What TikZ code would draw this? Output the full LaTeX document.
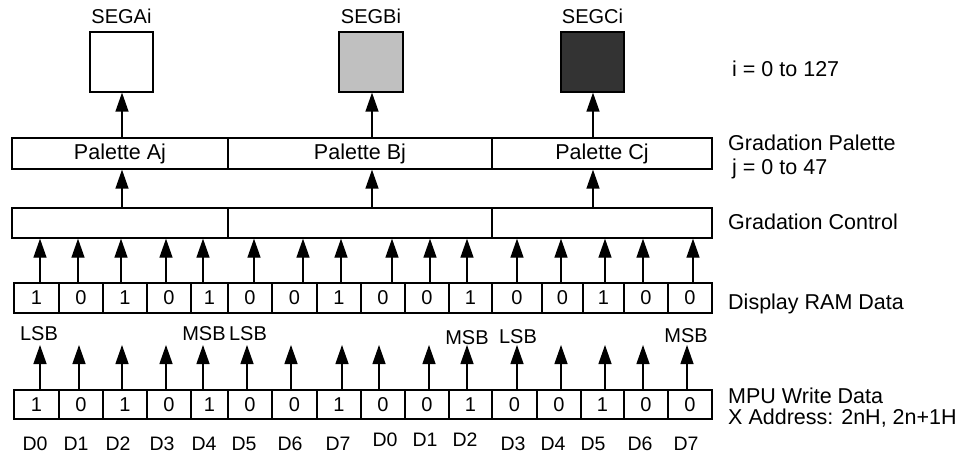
\documentclass[tikz,border=0pt]{standalone}
\usepackage{fontspec}
\setmainfont{Liberation Sans}
\usetikzlibrary{arrows.meta}
\definecolor{segmid}{RGB}{192,192,192}
\definecolor{segdark}{RGB}{51,51,51}
\begin{document}
\begin{tikzpicture}[x=1pt,y=-1pt,
  every node/.style={font=\fontsize{20}{24}\selectfont},
  bigfont/.style={font=\fontsize{21.5}{25}\selectfont},
  cellbox/.style={draw, line width=1.3pt, inner sep=0pt},
  arr/.style={-{Triangle[length=19pt,width=13pt]}, line width=1.3pt},
  lbl/.style={inner sep=0pt, anchor=base west, bigfont},
  clbl/.style={inner sep=0pt, anchor=base}
]
\path[use as bounding box] (0,0) rectangle (963,457);

% segment boxes
\node[cellbox, minimum width=63pt, minimum height=60pt, fill=white] (segA) at (121.5,62) {};
\node[cellbox, minimum width=64pt, minimum height=60pt, fill=segmid] (segB) at (371,62) {};
\node[cellbox, minimum width=63pt, minimum height=60pt, fill=segdark] (segC) at (592.5,62) {};
\node[clbl] (tA) at (121.5,24) {SEGAi};
\node[clbl] (tB) at (371,24) {SEGBi};
\node[clbl] (tC) at (592.5,24) {SEGCi};

% palette row
\node[cellbox, bigfont, minimum width=216pt, minimum height=31pt] (palA) at (120,153.5) {Palette Aj};
\node[cellbox, bigfont, minimum width=264pt, minimum height=31pt] (palB) at (360,153.5) {Palette Bj};
\node[cellbox, bigfont, minimum width=220pt, minimum height=31pt] (palC) at (602,153.5) {Palette Cj};

% gradation control row
\node[cellbox, minimum width=216pt, minimum height=30pt] (gcA) at (120,223) {};
\node[cellbox, minimum width=264pt, minimum height=30pt] (gcB) at (360,223) {};
\node[cellbox, minimum width=220pt, minimum height=30pt] (gcC) at (602,223) {};

% display RAM cells
\foreach \l/\r/\v [count=\i] in {14/59/1,59/103/0,103/147/1,147/191/0,191/228/1,228/272/0,272/317/0,317/361/1,361/405/0,405/449/0,449/492/1,492/542/0,542/583/0,583/624/1,624/668/0,668/712/0}
  \node[cellbox, minimum width={(\r-\l)*1pt}, minimum height=30pt] (r\i) at ({(\l+\r)/2},298) {\v};

% MPU cells
\foreach \l/\r/\v [count=\i] in {14/59/1,59/103/0,103/147/1,147/191/0,191/228/1,228/272/0,272/317/0,317/361/1,361/405/0,405/449/0,449/492/1,492/537/0,537/581/0,581/624/1,624/668/0,668/712/0}
  \node[cellbox, minimum width={(\r-\l)*1pt}, minimum height=29pt] (m\i) at ({(\l+\r)/2},404.5) {\v};

% arrows palette -> segments
\draw[arr] (122,0 |- palA.north) -- (122,0 |- segA.south);
\draw[arr] (372,0 |- palB.north) -- (372,0 |- segB.south);
\draw[arr] (593,0 |- palC.north) -- (593,0 |- segC.south);

% arrows gradation control -> palette
\draw[arr] (122,0 |- gcA.north) -- (122,0 |- palA.south);
\draw[arr] (372,0 |- gcB.north) -- (372,0 |- palB.south);
\draw[arr] (593,0 |- gcC.north) -- (593,0 |- palC.south);

% arrows RAM -> gradation control
\foreach \x [count=\i] in {40,78,121,166,203,254,303,341,392,430,467,517,561,605,643,693}
  \draw[arr] (\x,0 |- r\i.north) -- (\x,0 |- gcA.south);

% arrows MPU -> up
\foreach \x [count=\i] in {40,79,122,166,203,247,291,342,379,429,467,517,561,605,643,687} {
  \coordinate (t\i) at (\x,345);
  \draw[arr] (\x,0 |- m\i.north) -- (t\i);
}

% LSB / MSB
\node[clbl] (lsb1) at (39,340) {LSB};
\node[clbl] (msb1) at (204,340) {MSB};
\node[clbl] (lsb2) at (248,340) {LSB};
\node[clbl] (msb2) at (467,344) {MSB};
\node[clbl] (lsb3) at (518,343) {LSB};
\node[clbl] (msb3) at (686,342) {MSB};

% D labels
\foreach \x/\t/\b [count=\i] in {35/D0/450,76/D1/450,118/D2/450,162/D3/450,204/D4/450,244/D5/450,290/D6/450,338/D7/450,385/D0/446,425/D1/446,465/D2/446,513/D3/450,553/D4/450,593/D5/450,640/D6/450,686/D7/450}
  \node[clbl, font=\fontsize{19.5}{23}\selectfont] (dl\i) at (\x,\b) {\t};

% right labels
\node[lbl] (iR) at (732,77) {i = 0 to 127};
\node[lbl] (gpal) at (728,151) {Gradation Palette};
\node[lbl] (jR) at (732,175) {j = 0 to 47};
\node[lbl] (gctl) at (728,229) {Gradation Control};
\node[lbl] (dram) at (728,309) {Display RAM Data};
\node[lbl] (mpu) at (728,403) {MPU Write Data};
\node[lbl] (xadr) at (728,424) {X Address: 2nH, 2n+1H};
\end{tikzpicture}
\end{document}
